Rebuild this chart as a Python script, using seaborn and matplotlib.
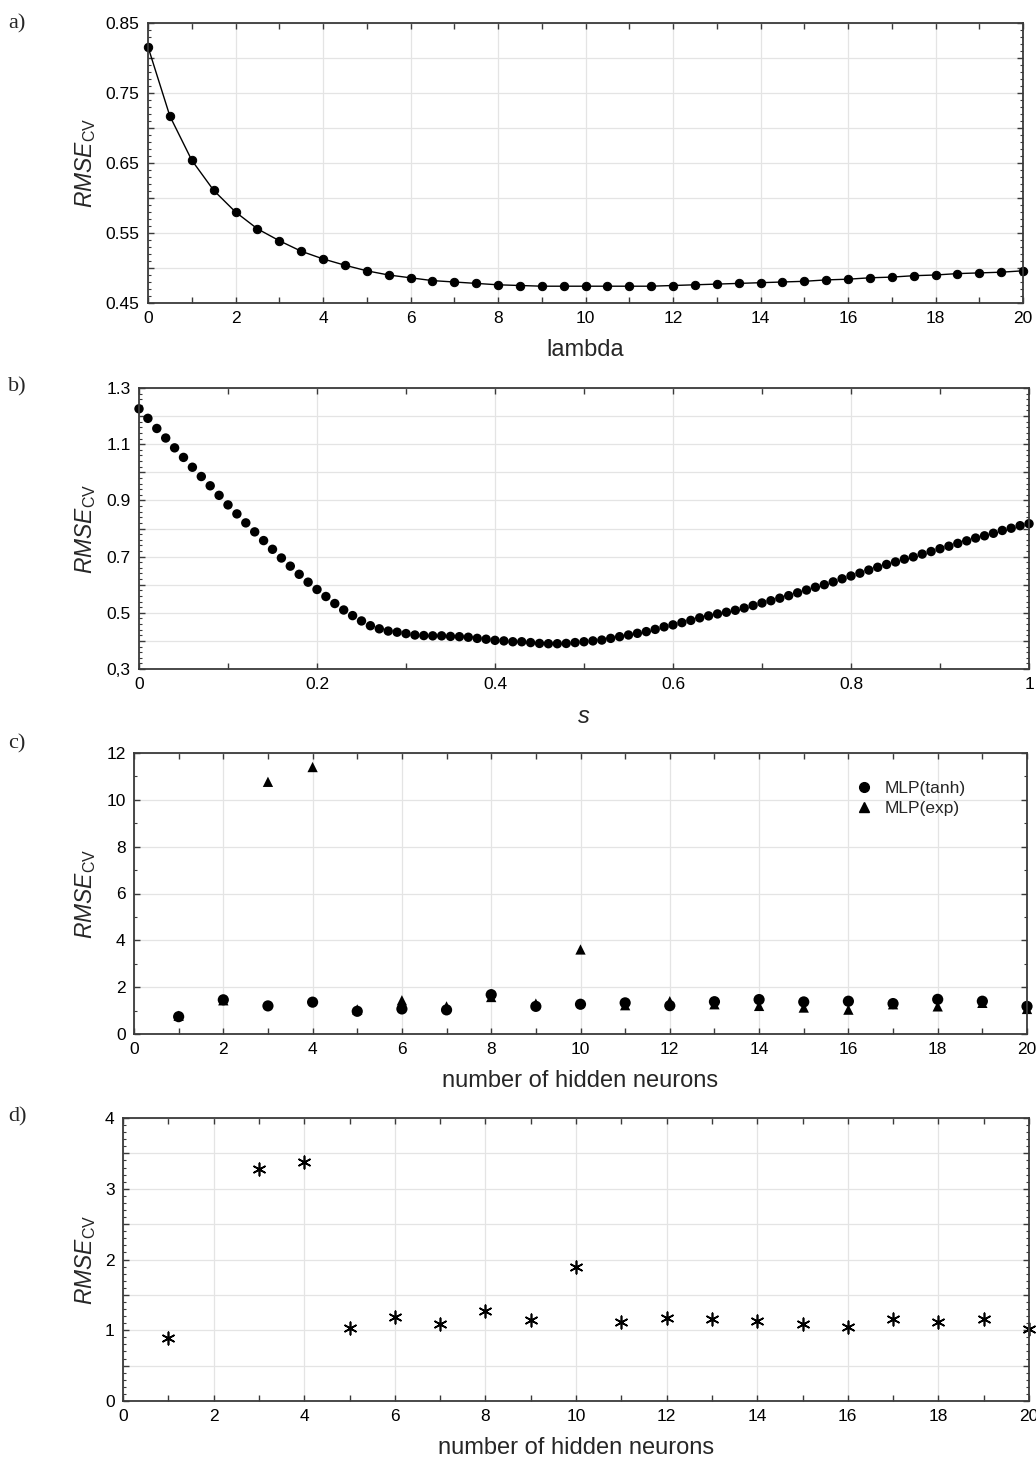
import numpy as np
import pandas as pd
import matplotlib
matplotlib.use("Agg")
import matplotlib.pyplot as plt
import seaborn as sns

# ---- data ----
lam = [0, 0.5, 1, 1.5, 2, 2.5, 3, 3.5, 4, 4.5, 5, 5.5, 6, 6.5, 7, 7.5, 8, 8.5,
       9, 9.5, 10, 10.5, 11, 11.5, 12, 12.5, 13, 13.5, 14, 14.5, 15, 15.5,
       16, 16.5, 17, 17.5, 18, 18.5, 19, 19.5, 20]
rmse_lam = [0.816, 0.717, 0.654, 0.611, 0.580, 0.556, 0.539, 0.524, 0.513,
            0.504, 0.496, 0.490, 0.486, 0.482, 0.480, 0.478, 0.476, 0.475,
            0.474, 0.474, 0.474, 0.474, 0.474, 0.474, 0.475, 0.476, 0.477,
            0.478, 0.479, 0.480, 0.481, 0.483, 0.484, 0.486, 0.487, 0.489,
            0.490, 0.492, 0.493, 0.494, 0.496]

s_vals = [i / 100 for i in range(101)]
rmse_s = [1.226, 1.192, 1.156, 1.122, 1.087, 1.053, 1.018, 0.985, 0.952, 0.918,
          0.884, 0.852, 0.820, 0.788, 0.757, 0.726, 0.695, 0.666, 0.637, 0.609,
          0.583, 0.558, 0.533, 0.510, 0.490, 0.471, 0.454, 0.443, 0.435, 0.431,
          0.426, 0.421, 0.419, 0.418, 0.418, 0.416, 0.415, 0.413, 0.409, 0.406,
          0.402, 0.400, 0.397, 0.397, 0.394, 0.391, 0.390, 0.390, 0.391, 0.394,
          0.397, 0.400, 0.403, 0.409, 0.415, 0.421, 0.427, 0.433, 0.441, 0.450,
          0.457, 0.465, 0.473, 0.482, 0.489, 0.496, 0.502, 0.509, 0.517, 0.526,
          0.535, 0.543, 0.552, 0.561, 0.571, 0.581, 0.591, 0.600, 0.610, 0.621,
          0.631, 0.641, 0.652, 0.662, 0.672, 0.681, 0.691, 0.699, 0.709, 0.718,
          0.728, 0.737, 0.747, 0.756, 0.766, 0.774, 0.783, 0.793, 0.801, 0.810,
          0.817]

neurons = list(range(1, 21))
mlp_tanh = [0.74, 1.46, 1.20, 1.36, 0.97, 1.07, 1.03, 1.68, 1.18, 1.27,
            1.33, 1.21, 1.38, 1.47, 1.37, 1.40, 1.30, 1.48, 1.40, 1.18]
mlp_exp = [0.78, 1.44, 10.77, 11.40, 1.05, 1.44, 1.18, 1.58, 1.30, 3.61,
           1.23, 1.40, 1.27, 1.20, 1.13, 1.04, 1.27, 1.18, 1.33, 1.07]

neurons_d = [1, 3, 4, 5, 6, 7, 8, 9, 10, 11, 12, 13, 14, 15, 16, 17, 18, 19, 20]
rmse_d = [0.896, 3.278, 3.382, 1.028, 1.193, 1.085, 1.278, 1.146, 1.901, 1.123,
          1.179, 1.156, 1.137, 1.090, 1.052, 1.160, 1.118, 1.165, 1.019]

# tick labels
ya_ticks = [0.45, 0.50, 0.55, 0.60, 0.65, 0.70, 0.75, 0.80, 0.85]
ya_labels = ["0.45", "", "0.55", "", "0.65", "", "0.75", "", "0.85"]
yb_ticks = [0.3, 0.4, 0.5, 0.6, 0.7, 0.8, 0.9, 1.0, 1.1, 1.2, 1.3]
yb_labels = ["0,3", "", "0.5", "", "0.7", "", "0.9", "", "1.1", "", "1.3"]
xb_ticks = [0, 0.2, 0.4, 0.6, 0.8, 1.0]
xb_labels = ["0", "0.2", "0.4", "0.6", "0.8", "1"]
yd_ticks = [0, 0.5, 1, 1.5, 2, 2.5, 3, 3.5, 4]
yd_labels = ["0", "", "1", "", "2", "", "3", "", "4"]

# ---- style ----
sns.set_style("ticks")
plt.rcParams["font.family"] = ["Liberation Sans", "DejaVu Sans"]
plt.rcParams["mathtext.fontset"] = "custom"
plt.rcParams["mathtext.it"] = "Liberation Sans:italic"
plt.rcParams["mathtext.rm"] = "Liberation Sans"

W, H = 1036, 1463
fig = plt.figure(figsize=(W / 100, H / 100), dpi=100)


def make_axes(left, right, top, bottom):
    return fig.add_axes([left / W, 1 - bottom / H, (right - left) / W, (bottom - top) / H])


def style_axes(ax, top, bottom, xlabel, xlabel_italic=False):
    for sp in ax.spines.values():
        sp.set_color("#3a3a3a")
        sp.set_linewidth(1.3)
    ax.grid(True, which="major", color="#e4e4e4", linewidth=0.9)
    ax.set_axisbelow(True)
    ax.tick_params(which="both", direction="in", top=True, right=True,
                   colors="#3a3a3a", labelcolor="black", labelsize=12.5, pad=6)
    ax.tick_params(which="major", length=4, width=1)
    ax.tick_params(axis="x", which="minor", length=4, width=1)
    ax.tick_params(axis="y", which="minor", length=2, width=0.8)
    ax.set_xlabel(xlabel, fontsize=17, labelpad=9,
                  style="italic" if xlabel_italic else "normal")
    ax.set_ylabel(r"$RMSE_{\mathrm{CV}}$", fontsize=16.5)
    ax.yaxis.set_label_coords(98 / W, 1 - (top + bottom) / 2 / H, transform=fig.transFigure)


def panel_letter(txt, y):
    fig.text(8 / W, 1 - y / H, txt, family=["Liberation Serif", "DejaVu Serif"],
             fontsize=16, va="center", ha="left")


# ---- a) ----
axa = make_axes(148, 1023, 23, 303)
df_a = pd.DataFrame({"lambda": lam, "rmse": rmse_lam})
sns.lineplot(data=df_a, x="lambda", y="rmse", ax=axa, color="black", linewidth=1,
             marker="o", markersize=6, markeredgecolor="black", clip_on=False)
axa.set_xlim(0, 20)
axa.set_ylim(0.45, 0.85)
axa.set_xticks(range(0, 21, 2))
axa.set_xticks(range(0, 21, 1), minor=True)
axa.set_yticks(ya_ticks)
axa.set_yticklabels(ya_labels)
axa.set_yticks(np.arange(0.45, 0.851, 0.01), minor=True)
style_axes(axa, 23, 303, "lambda")
panel_letter("a)", 24)

# ---- b) ----
axb = make_axes(139, 1029, 388, 669)
df_b = pd.DataFrame({"s": s_vals, "rmse": rmse_s})
sns.scatterplot(data=df_b, x="s", y="rmse", ax=axb, color="black", s=46,
                edgecolor="none", clip_on=False)
axb.set_xlim(0, 1)
axb.set_ylim(0.3, 1.3)
axb.set_xticks(xb_ticks)
axb.set_xticklabels(xb_labels)
axb.set_xticks(np.arange(0, 1.001, 0.1), minor=True)
axb.set_yticks(yb_ticks)
axb.set_yticklabels(yb_labels)
axb.set_yticks(np.arange(0.3, 1.301, 0.02), minor=True)
style_axes(axb, 388, 669, "s", xlabel_italic=True)
panel_letter("b)", 387)

# ---- c) ----
axc = make_axes(134, 1027, 753, 1034)
sns.scatterplot(x=neurons, y=mlp_exp, ax=axc, color="black", marker="^", s=55,
                edgecolor="none", clip_on=False)
sns.scatterplot(x=neurons, y=mlp_tanh, ax=axc, color="black", marker="o", s=65,
                edgecolor="none", clip_on=False)
axc.set_xlim(0, 20)
axc.set_ylim(0, 12)
axc.set_xticks(range(0, 21, 2))
axc.set_xticks(range(0, 21, 1), minor=True)
axc.set_yticks(range(0, 13, 2))
axc.set_yticks(range(0, 13, 1), minor=True)
style_axes(axc, 753, 1034, "number of hidden neurons")
h_tanh = plt.Line2D([], [], color="black", marker="o", linestyle="none", markersize=7)
h_exp = plt.Line2D([], [], color="black", marker="^", linestyle="none", markersize=7)
axc.legend([h_tanh, h_exp], ["MLP(tanh)", "MLP(exp)"], loc="upper left",
           bbox_to_anchor=(0.79, 0.925), frameon=False, fontsize=12.5,
           handletextpad=0.2, labelspacing=0.25, borderaxespad=0)
panel_letter("c)", 744)

# ---- d) ----
axd = make_axes(123, 1029, 1118, 1401)
sns.scatterplot(x=neurons_d, y=rmse_d, ax=axd, color="black", marker=(6, 2, 0),
                s=80, linewidth=1.2, clip_on=False)
axd.set_xlim(0, 20)
axd.set_ylim(0, 4)
axd.set_xticks(range(0, 21, 2))
axd.set_xticks(range(0, 21, 1), minor=True)
axd.set_yticks(yd_ticks)
axd.set_yticklabels(yd_labels)
axd.set_yticks(np.arange(0, 4.001, 0.1), minor=True)
style_axes(axd, 1118, 1401, "number of hidden neurons")
panel_letter("d)", 1117)

fig.savefig("out.png", dpi=100)
